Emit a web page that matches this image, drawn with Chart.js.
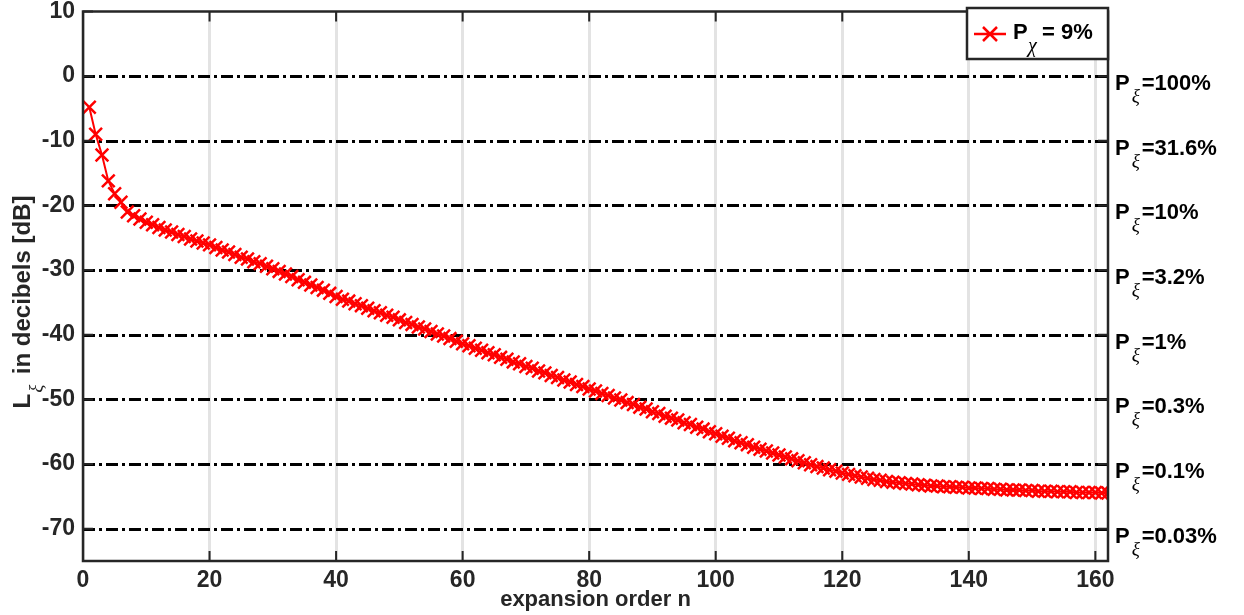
<!DOCTYPE html>
<html>
<head>
<meta charset="utf-8">
<script src="https://cdn.jsdelivr.net/npm/chart.js@4"></script>
<style>
  html, body { margin: 0; padding: 0; background: #fff; }
  #wrap { width: 1244px; height: 615px; position: relative; }
</style>
</head>
<body>
<div id="wrap"><canvas id="chart" width="1244" height="615"></canvas></div>
<script>
// expansion order n = 1..162
const orders = Array.from({ length: 162 }, (_, k) => k + 1);
// L_xi in dB
const levelDb = [
  -4.8, -9.0, -12.2, -16.2, -18.2, -19.5, -21.0, -21.6, -22.1, -22.6,
  -23.0, -23.4, -23.8, -24.1, -24.5, -24.8, -25.2, -25.5, -25.8, -26.1,
  -26.5, -26.9, -27.2, -27.6, -28.0, -28.3, -28.7, -29.0, -29.4, -29.8,
  -30.2, -30.6, -31.0, -31.5, -31.9, -32.3, -32.7, -33.1, -33.6, -34.1,
  -34.5, -34.8, -35.2, -35.5, -35.9, -36.3, -36.6, -37.0, -37.3, -37.7,
  -38.1, -38.4, -38.8, -39.1, -39.5, -39.9, -40.2, -40.6, -41.0, -41.4,
  -41.7, -42.1, -42.4, -42.8, -43.1, -43.5, -43.8, -44.2, -44.5, -44.9,
  -45.2, -45.6, -45.9, -46.3, -46.6, -47.0, -47.3, -47.7, -48.0, -48.4,
  -48.7, -49.1, -49.4, -49.8, -50.1, -50.5, -50.8, -51.2, -51.5, -51.9,
  -52.2, -52.6, -52.9, -53.2, -53.6, -53.9, -54.3, -54.6, -55.0, -55.3,
  -55.7, -56.0, -56.4, -56.7, -57.0, -57.4, -57.7, -58.0, -58.3, -58.6,
  -58.9, -59.2, -59.5, -59.8, -60.1, -60.4, -60.6, -60.9, -61.1, -61.4,
  -61.6, -61.8, -62.0, -62.2, -62.4, -62.5, -62.7, -62.8, -62.9, -63.0,
  -63.1, -63.2, -63.3, -63.4, -63.4, -63.5, -63.5, -63.6, -63.6, -63.7,
  -63.7, -63.8, -63.8, -63.9, -63.9, -64.0, -64.0, -64.0, -64.1, -64.1,
  -64.2, -64.2, -64.2, -64.3, -64.3, -64.3, -64.4, -64.4, -64.4, -64.4,
  -64.5, -64.5
];
const xTicks = [0, 20, 40, 60, 80, 100, 120, 140, 160];
const yTicks = [10, 0, -10, -20, -30, -40, -50, -60, -70];
// reference levels (dash-dot lines) and their labels on the right
const refLevels = [0, -10, -20, -30, -40, -50, -60, -70];
const refLabels = ['100%', '31.6%', '10%', '3.2%', '1%', '0.3%', '0.1%', '0.03%'];
const legendValue = '= 9%';

const AX = '#262626';
const FAM = '"Liberation Sans", Arial, sans-serif';
const BOLD = 'bold 22px ' + FAM;
const SUB = 'italic 19px "Liberation Serif", "DejaVu Serif", serif';

// dash-dot lines behind the data
const refLines = {
  id: 'refLines',
  beforeDatasetsDraw(chart) {
    const { ctx, chartArea: a, scales: { y } } = chart;
    ctx.save();
    ctx.strokeStyle = '#000';
    ctx.lineWidth = 3;
    ctx.setLineDash([12, 4, 3, 4]);
    refLevels.forEach(v => {
      const py = Math.round(y.getPixelForValue(v)) + 0.5;
      ctx.beginPath();
      ctx.moveTo(a.left, py);
      ctx.lineTo(a.right, py);
      ctx.stroke();
    });
    ctx.restore();
  }
};

// frame, inward ticks, labels, legend
const decor = {
  id: 'decor',
  afterDraw(chart) {
    const { ctx, chartArea: a, scales: { x, y } } = chart;
    ctx.save();
    ctx.strokeStyle = AX;
    ctx.lineWidth = 2.5;
    ctx.strokeRect(a.left, a.top, a.right - a.left, a.bottom - a.top);
    ctx.lineWidth = 2;
    ctx.beginPath();
    yTicks.forEach(v => {
      const py = y.getPixelForValue(v);
      ctx.moveTo(a.left, py); ctx.lineTo(a.left + 10, py);
      ctx.moveTo(a.right, py); ctx.lineTo(a.right - 10, py);
    });
    xTicks.forEach(v => {
      const px = x.getPixelForValue(v);
      ctx.moveTo(px, a.bottom); ctx.lineTo(px, a.bottom - 10);
      ctx.moveTo(px, a.top); ctx.lineTo(px, a.top + 10);
    });
    ctx.stroke();

    // right-hand labels P_xi=...
    ctx.fillStyle = '#000';
    ctx.textBaseline = 'alphabetic';
    ctx.textAlign = 'left';
    refLevels.forEach((v, i) => {
      const py = y.getPixelForValue(v);
      const x0 = a.right + 7;
      ctx.font = BOLD;
      ctx.fillText('P', x0, py + 14);
      const pw = ctx.measureText('P').width;
      ctx.font = SUB;
      ctx.fillText('ξ', x0 + pw + 2, py + 26);
      ctx.font = BOLD;
      ctx.fillText('=' + refLabels[i], x0 + pw + 12, py + 14);
    });

    // axis titles
    ctx.fillStyle = AX;
    ctx.font = BOLD;
    ctx.textAlign = 'center';
    ctx.fillText('expansion order n', (a.left + a.right) / 2, 606);

    ctx.save();
    ctx.translate(30, 302);
    ctx.rotate(-Math.PI / 2);
    ctx.textAlign = 'left';
    ctx.font = 'bold 24px ' + FAM;
    const wL = ctx.measureText('L').width;
    const wRest = ctx.measureText(' in decibels [dB]').width;
    const total = wL + 13 + wRest;
    let cx = -total / 2;
    ctx.fillText('L', cx, 0);
    ctx.font = SUB;
    ctx.fillText('ξ', cx + wL + 1, 12);
    ctx.font = 'bold 24px ' + FAM;
    ctx.fillText(' in decibels [dB]', cx + wL + 13, 0);
    ctx.restore();

    // legend
    const lx = 967, ly = 8, lw = a.right - lx, lh = 51;
    ctx.fillStyle = '#fff';
    ctx.fillRect(lx, ly, lw, lh);
    ctx.strokeStyle = AX;
    ctx.lineWidth = 2.5;
    ctx.strokeRect(lx, ly, lw, lh);
    ctx.strokeStyle = '#ff0000';
    ctx.lineWidth = 2.5;
    ctx.beginPath();
    ctx.moveTo(974, 34); ctx.lineTo(1006, 34);
    ctx.moveTo(983, 27); ctx.lineTo(997, 41);
    ctx.moveTo(997, 27); ctx.lineTo(983, 41);
    ctx.stroke();
    ctx.fillStyle = '#000';
    ctx.textAlign = 'left';
    ctx.font = 'bold 22px ' + FAM;
    ctx.fillText('P', 1013, 39);
    ctx.font = 'italic 20px "Liberation Serif", "DejaVu Serif", serif';
    ctx.fillText('χ', 1028, 52);
    ctx.font = 'bold 22px ' + FAM;
    ctx.fillText(legendValue, 1042, 39);
    ctx.restore();
  }
};

const tickFont = { family: FAM, size: 23, weight: 'bold' };
const noPad = s => { s.paddingTop = 0; s.paddingBottom = 0; s.paddingLeft = 0; s.paddingRight = 0; };

const ctx = document.getElementById('chart');
new Chart(ctx, {
  type: 'line',
  data: {
    labels: orders,
    datasets: [{
      label: 'P_chi = 9%',
      data: orders.map((n, i) => ({ x: n, y: levelDb[i] })),
      borderColor: '#ff0000',
      backgroundColor: '#ff0000',
      borderWidth: 2,
      pointStyle: 'crossRot',
      pointRadius: 9,
      pointBorderWidth: 2.5,
      pointBorderColor: '#ff0000',
      tension: 0,
      clip: 0
    }]
  },
  options: {
    responsive: false,
    animation: false,
    events: [],
    layout: { padding: { left: 0, right: 136, top: 8, bottom: 0 } },
    plugins: { legend: { display: false }, tooltip: { enabled: false } },
    scales: {
      x: {
        type: 'linear',
        min: 0, max: 162,
        afterBuildTicks: s => { s.ticks = xTicks.map(v => ({ value: v })); },
        afterFit: s => { s.height = 54; noPad(s); },
        grid: { color: '#e3e3e3', lineWidth: 3, drawTicks: false },
        border: { display: false },
        ticks: { color: AX, font: tickFont, padding: 6, maxRotation: 0 }
      },
      y: {
        min: -75, max: 10,
        afterBuildTicks: s => { s.ticks = yTicks.map(v => ({ value: v })); },
        afterFit: s => { s.width = 83; noPad(s); },
        grid: { display: false, drawTicks: false },
        border: { display: false },
        ticks: { color: AX, font: tickFont, padding: 8 }
      }
    }
  },
  plugins: [refLines, decor]
});
</script>
</body>
</html>
